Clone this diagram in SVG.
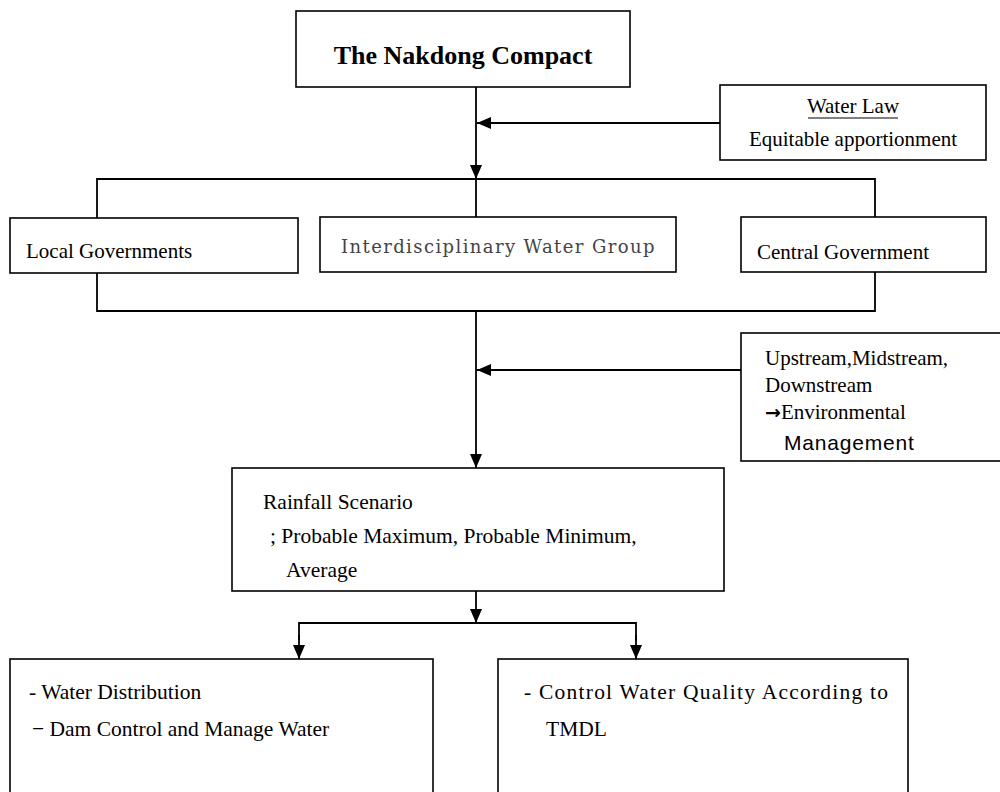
<svg xmlns="http://www.w3.org/2000/svg" width="1000" height="792" viewBox="0 0 1000 792">
<defs>
<marker id="ah" markerUnits="userSpaceOnUse" markerWidth="14" markerHeight="12" refX="14" refY="6" orient="auto">
<path d="M0,0 L14,6 L0,12 Z" fill="#000"/>
</marker>
<style>
.box{fill:#fff;stroke:#000;stroke-width:1.6}
.ln{fill:none;stroke:#000;stroke-width:1.8}
.t{font-family:"Liberation Serif","Times New Roman",serif;font-size:21px;fill:#000}
.b{font-family:"Liberation Serif","Times New Roman",serif;font-size:21.5px;fill:#000}
.g{font-family:"DejaVu Serif",serif;font-size:18px;fill:#444;letter-spacing:1.4px}
.s{font-family:"Liberation Sans",Arial,sans-serif;font-size:21px;fill:#000;letter-spacing:0.8px}
</style>
</defs>
<rect width="1000" height="792" fill="#fff"/>
<g id="connectors">
<line class="ln" x1="476" y1="87" x2="476" y2="179" marker-end="url(#ah)"/>
<line class="ln" x1="720" y1="123" x2="477" y2="123" marker-end="url(#ah)"/>
<polyline class="ln" points="97,218 97,179 875,179 875,217"/>
<line class="ln" x1="476" y1="179" x2="476" y2="217"/>
<polyline class="ln" points="97,273 97,311 875,311 875,272"/>
<line class="ln" x1="476" y1="311" x2="476" y2="468" marker-end="url(#ah)"/>
<line class="ln" x1="741" y1="370" x2="477" y2="370" marker-end="url(#ah)"/>
<line class="ln" x1="476" y1="591" x2="476" y2="623" marker-end="url(#ah)"/>
<polyline class="ln" points="299,640 299,623 636,623 636,640"/>
<line class="ln" x1="299" y1="635" x2="299" y2="659" marker-end="url(#ah)"/>
<line class="ln" x1="636" y1="635" x2="636" y2="659" marker-end="url(#ah)"/>
</g>
<g id="compact">
<rect class="box" x="296" y="11" width="334" height="76"/>
<text x="463" y="64" text-anchor="middle" style="font-family:'Liberation Serif',serif;font-size:26px;font-weight:bold">The Nakdong Compact</text>
</g>
<g id="waterlaw">
<rect class="box" x="720" y="85" width="266" height="75"/>
<text class="t" x="853" y="113" text-anchor="middle">Water Law</text>
<line x1="808" y1="118" x2="898" y2="118" stroke="#000" stroke-width="1.2"/>
<text class="t" x="853" y="146" text-anchor="middle">Equitable apportionment</text>
</g>
<g id="local">
<rect class="box" x="10" y="218" width="288" height="55"/>
<text class="t" x="26" y="258">Local Governments</text>
</g>
<g id="interdisciplinary">
<rect class="box" x="320" y="217" width="356" height="55"/>
<text class="g" x="341" y="253">Interdisciplinary Water Group</text>
</g>
<g id="central">
<rect class="box" x="741" y="217" width="245" height="55"/>
<text class="t" x="757" y="259">Central Government</text>
</g>
<g id="streams">
<rect class="box" x="741" y="333" width="264" height="128"/>
<text class="t" x="765" y="365">Upstream,Midstream,</text>
<text class="t" x="765" y="392">Downstream</text>
<text class="t" x="765" y="419"><tspan style="font-family:'DejaVu Sans',sans-serif;font-weight:bold;font-size:19px">→</tspan>Environmental</text>
<text class="s" x="784" y="450">Management</text>
</g>
<g id="rainfall">
<rect class="box" x="232" y="468" width="492" height="123"/>
<text class="b" x="263" y="509">Rainfall Scenario</text>
<text class="b" x="270" y="543">; Probable Maximum, Probable Minimum,</text>
<text class="b" x="286" y="577">Average</text>
</g>
<g id="distribution">
<rect class="box" x="10" y="659" width="423" height="150"/>
<text class="b" x="29" y="699">- Water Distribution</text>
<text class="b" x="32" y="736">− Dam Control and Manage Water</text>
</g>
<g id="quality">
<rect class="box" x="498" y="659" width="410" height="150"/>
<text class="b" x="524" y="699" textLength="364" lengthAdjust="spacing">- Control Water Quality According to</text>
<text class="b" x="546" y="736">TMDL</text>
</g>
</svg>
